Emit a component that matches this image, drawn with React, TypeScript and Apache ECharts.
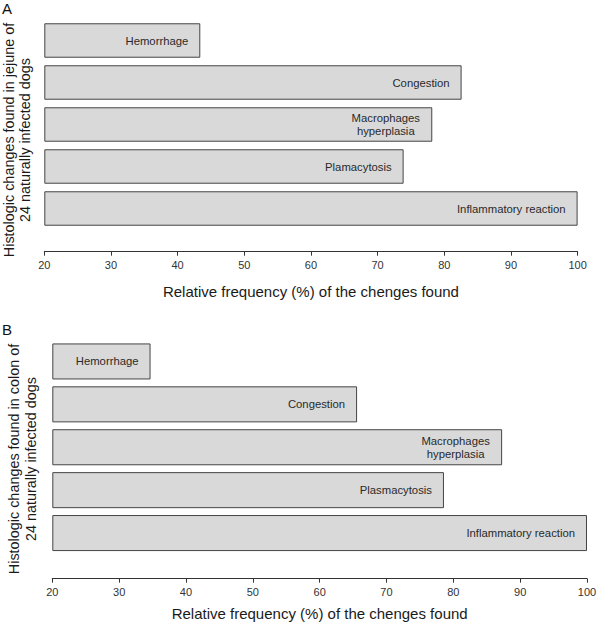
import React, { useEffect, useRef } from "react";
import * as echarts from "echarts";

const baseline = 20;
const xMin = 20;
const xMax = 100;
const xInterval = 10;

const categoriesA = ["Hemorrhage", "Congestion", "Macrophages\nhyperplasia", "Plamacytosis", "Inflammatory reaction"];
const valuesA = [43.4, 82.6, 78.2, 73.9, 100];

const categoriesB = ["Hemorrhage", "Congestion", "Macrophages\nhyperplasia", "Plasmacytosis", "Inflammatory reaction"];
const valuesB = [34.7, 65.6, 87.3, 78.6, 100];

const xTitle = "Relative frequency (%) of the chenges found";
const yTitleA = "Histologic changes found in jejune of\n24 naturally infected dogs";
const yTitleB = "Histologic changes found in colon of\n24 naturally infected dogs";

const FONT = "'Liberation Sans', Arial, sans-serif";
const TXT = "#2a2a2a";
const LABEL_SIZE = 11.3;

function labelFormatter(p: any) {
  const name: string = p.name;
  if (name.indexOf("\n") >= 0) {
    return name.split("\n").map((l) => `{c|${l}}`).join("\n");
  }
  return name;
}

function panelSeries(idx: number, values: number[], stack: string) {
  return [
    {
      type: "bar",
      xAxisIndex: idx,
      yAxisIndex: idx,
      stack,
      silent: true,
      barCategoryGap: idx === 0 ? "18%" : "16%",
      itemStyle: { color: "rgba(0,0,0,0)" },
      data: values.map(() => baseline),
    },
    {
      type: "bar",
      xAxisIndex: idx,
      yAxisIndex: idx,
      stack,
      clip: false,
      barCategoryGap: idx === 0 ? "18%" : "16%",
      itemStyle: { color: "#d9d9d9", borderColor: "#454545", borderWidth: 1 },
      label: {
        show: true,
        position: "insideRight",
        distance: 12,
        fontFamily: FONT,
        fontSize: LABEL_SIZE,
        color: TXT,
        lineHeight: 13,
        formatter: labelFormatter,
        rich: {
          c: { width: 69, align: "center", fontFamily: FONT, fontSize: LABEL_SIZE, color: TXT, lineHeight: 13 },
        },
      },
      data: values.map((v) => v - baseline),
    },
  ];
}

function xAxisCfg(idx: number, offset: number, nameGap: number) {
  return {
    type: "value",
    gridIndex: idx,
    min: xMin,
    max: xMax,
    interval: xInterval,
    offset,
    name: xTitle,
    nameLocation: "middle",
    nameGap,
    nameTextStyle: { fontFamily: FONT, fontSize: 15, color: "#1a1a1a" },
    axisLine: { show: true, lineStyle: { color: "#333", width: 1 } },
    axisTick: { show: true, length: 4, lineStyle: { color: "#333" } },
    axisLabel: { fontFamily: FONT, fontSize: 11, color: "#333", margin: 8 },
    splitLine: { show: false },
  };
}

function yAxisCfg(idx: number, cats: string[]) {
  return {
    type: "category",
    gridIndex: idx,
    inverse: true,
    data: cats,
    axisLine: { show: false },
    axisTick: { show: false },
    axisLabel: { show: false },
    splitLine: { show: false },
  };
}

function rotatedTitle(text: string, x: number, y: number, lh: number) {
  return {
    type: "text",
    x,
    y,
    rotation: Math.PI / 2,
    style: {
      text,
      x: 0,
      y: 0,
      align: "center",
      verticalAlign: "middle",
      fontFamily: FONT,
      fontSize: 14.4,
      lineHeight: lh,
      fill: "#1a1a1a",
    },
  };
}

function panelLetter(text: string, x: number, y: number) {
  return {
    type: "text",
    x,
    y,
    style: { text, x: 0, y: 0, align: "left", verticalAlign: "top", fontFamily: FONT, fontSize: 15, fill: "#111" },
  };
}

export default function App() {
  const ref = useRef<HTMLDivElement>(null);
  useEffect(() => {
    if (!ref.current) return;
    const chart = echarts.init(ref.current, null, { renderer: "svg" });
    chart.setOption({
      animation: false,
      backgroundColor: "#ffffff",
      grid: [
        { left: 44.3, right: 22.4, top: 19.5, height: 210 },
        { left: 52.3, right: 13, top: 340, height: 214.5 },
      ],
      xAxis: [xAxisCfg(0, 22.2, 32), xAxisCfg(1, 24.2, 27)],
      yAxis: [yAxisCfg(0, categoriesA), yAxisCfg(1, categoriesB)],
      series: [...panelSeries(0, valuesA, "a"), ...panelSeries(1, valuesB, "b")],
      graphic: [
        panelLetter("A", 2, 1),
        panelLetter("B", 2, 322),
        rotatedTitle(yTitleA, 17, 140, 16.5),
        rotatedTitle(yTitleB, 22.5, 459, 16.5),
      ],
    });
    return () => chart.dispose();
  }, []);
  return (
    <div
      ref={ref}
      style={{ position: "fixed", left: 0, top: 0, width: 600, height: 623, background: "#fff" }}
    />
  );
}
